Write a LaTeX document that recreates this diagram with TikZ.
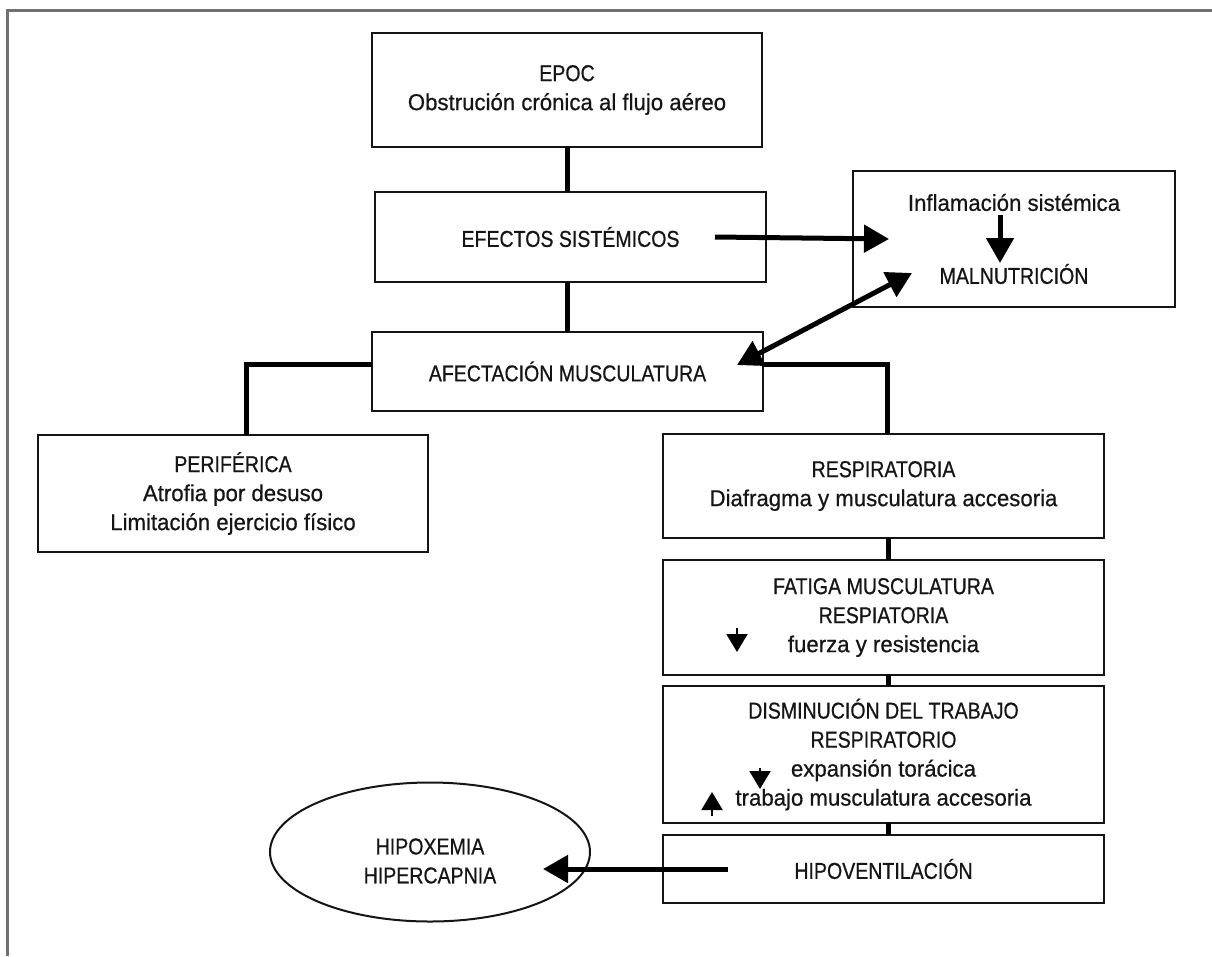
\documentclass[tikz,border=0pt]{standalone}
\usepackage{fontspec}
\setmainfont{Liberation Sans}[FakeStretch=0.965, FakeBold=0.6]
\newfontfamily\capsf{Liberation Sans}[FakeStretch=0.85, FakeBold=0.6]
\usetikzlibrary{arrows.meta,shapes.geometric}
\definecolor{frame}{HTML}{707070}
\definecolor{ink}{HTML}{151515}
\tikzset{
  txt/.style={text=ink, align=center, font=\fontsize{23}{29}\selectfont},
  capstxt/.style={text=ink, align=center, font=\fontsize{23}{29}\capsf},
  box/.style={draw=ink, line width=2pt, rectangle, inner sep=0pt, outer sep=0pt, txt},
  capsbox/.style={box, capstxt},
  conn/.style={draw=black, line width=5pt},
  bigarrow/.style={draw=black, line width=5pt, -{Triangle[length=25pt,width=27pt]}},
  bigdouble/.style={draw=black, line width=5pt, {Triangle[length=25pt,width=27pt]}-{Triangle[length=25pt,width=27pt]}},
  smallarrow/.style={draw=black, line width=2pt, -{Triangle[length=18pt,width=21pt]}}
}
\begin{document}
\begin{tikzpicture}[x=1pt,y=-1pt]
\useasboundingbox (0,0) rectangle (1212,956);
\fill[white] (0,0) rectangle (1212,956);
\draw[frame, line width=3pt] (7.5,956) -- (7.5,10.5) -- (1212,10.5);

\node[box, minimum width=390pt, minimum height=114pt] (epoc) at (567,90) {{\capsf EPOC}\\Obstrución crónica al flujo aéreo};
\node[capsbox, minimum width=391pt, minimum height=90pt] (efectos) at (570.5,237) {EFECTOS SISTÉMICOS};
\node[box, minimum width=322pt, minimum height=136pt] (inf) at (1014,239) {Inflamación sistémica\\[44pt]{\capsf MALNUTRICIÓN}};
\node[capsbox, minimum width=391pt, minimum height=79pt] (afect) at (567.5,371.5) {AFECTACIÓN MUSCULATURA};
\node[box, minimum width=390pt, minimum height=117pt] (perif) at (233,493.5) {{\capsf PERIFÉRICA}\\Atrofia por desuso\\Limitación ejercicio físico};
\node[box, minimum width=441pt, minimum height=104pt] (resp) at (883.5,486) {{\capsf RESPIRATORIA}\\Diafragma y musculatura accesoria};
\node[box, minimum width=441pt, minimum height=115pt] (fatiga) at (883.5,617.5) {{\capsf FATIGA MUSCULATURA}\\{\capsf RESPIATORIA}\\fuerza y resistencia};
\node[box, minimum width=441pt, minimum height=137pt] (dism) at (883.5,754.5) {{\capsf DISMINUCIÓN DEL TRABAJO}\\{\capsf RESPIRATORIO}\\expansión torácica\\trabajo musculatura accesoria};
\node[capsbox, minimum width=441pt, minimum height=68pt] (hipo) at (883.5,869) {HIPOVENTILACIÓN};
\node[draw=ink, line width=2pt, ellipse, inner sep=0pt, outer sep=0pt, minimum width=320pt, minimum height=139pt,
      label={[capstxt, yshift=-9pt]center:HIPOXEMIA\\HIPERCAPNIA}] (hyp) at (430,852) {};

% connectors
\draw[conn] (epoc.south) -- (epoc.south |- efectos.north);
\draw[conn] (afect.north) -- (afect.north |- efectos.south);
\draw[conn] ([yshift=7.5pt]afect.west) -| ([xshift=13pt]perif.north);
\draw[conn] ([yshift=7.5pt]afect.east) -| ([xshift=4pt]resp.north);
\draw[conn] ([xshift=4.5pt]resp.south) -- ([xshift=4.5pt]fatiga.north);
\draw[conn] ([xshift=4.5pt]fatiga.south) -- ([xshift=4.5pt]dism.north);
\draw[conn] ([xshift=4.5pt]dism.south) -- ([xshift=4.5pt]hipo.north);

% arrows
\draw[bigarrow] ([xshift=-51pt]efectos.east) -- ([xshift=36pt]inf.west);
\draw[bigdouble] ([xshift=-26pt,yshift=6.5pt]afect.east) -- ([xshift=59pt,yshift=34pt]inf.south west);
\draw[bigarrow] ([xshift=-14pt,yshift=24pt]inf.center) -- ([xshift=-14pt,yshift=-24pt]inf.center);
\draw[bigarrow] ([xshift=65pt]hipo.west) -- ([xshift=-47pt,yshift=-17pt]hyp.east);

% small up/down markers
\draw[smallarrow] (737,628) -- (737,652);
\draw[smallarrow] (760,768) -- (760,789);
\draw[smallarrow] (712,816) -- (712,792);
\end{tikzpicture}
\end{document}
